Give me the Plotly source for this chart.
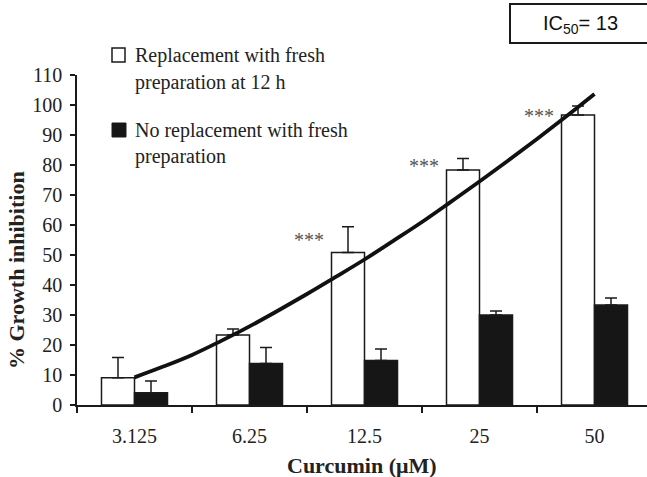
import plotly.graph_objects as go

# ---- data ----
categories = ["3.125", "6.25", "12.5", "25", "50"]
fresh = [9.1, 23.3, 50.8, 78.3, 96.7]
fresh_err = [6.7, 2.0, 8.6, 3.9, 3.0]
nofresh = [4.1, 13.8, 14.8, 30.0, 33.3]
nofresh_err = [3.9, 5.4, 3.9, 1.3, 2.4]

# fitted curve drawn in the reference (position in category units, value)
curve_x = [0, 0.25, 0.5, 0.75, 1.0, 1.25, 1.5, 1.75, 2.0, 2.25, 2.5, 2.75, 3.0, 3.25, 3.5, 3.75, 4.0]
curve_y = [9.2, 12.8, 16.7, 21.3, 26.2, 31.5, 37.0, 42.7, 48.5, 54.7, 61.0, 67.7, 74.5, 81.5, 88.7, 96.1, 103.7]

# significance marks (category index, value)
sig_idx = [2, 3, 4]
sig_val = [55.0, 79.7, 96.3]

ic50_text = "IC<sub>50</sub>= 13"
legend_fresh = ["Replacement with fresh", "preparation at 12 h"]
legend_nofresh = ["No replacement with fresh", "preparation"]

W, H = 647, 477
ML, MR, MT, MB = 77, 0, 75, 72
PW = W - ML - MR
PH = H - MT - MB
xpos = list(range(len(categories)))
XMAX = -0.5 + PW / 115.0

def px(x):
    return (x - ML) / PW

def py(y):
    return (MT + PH - y) / PH

SERIF = "Liberation Serif, Times New Roman, serif"
SANS = "Liberation Sans, Arial, sans-serif"
DARK = "#1a1a1a"

fig = go.Figure()
fig.add_trace(go.Bar(
    x=xpos, y=fresh, name="fresh",
    marker=dict(color="white", line=dict(color=DARK, width=1.5)),
    error_y=dict(type="data", array=fresh_err, arrayminus=[0] * 5, symmetric=False,
                 color=DARK, thickness=1.5, width=6),
))
fig.add_trace(go.Bar(
    x=xpos, y=nofresh, name="nofresh",
    marker=dict(color="#161616", line=dict(color=DARK, width=1.5)),
    error_y=dict(type="data", array=nofresh_err, arrayminus=[0] * 5, symmetric=False,
                 color=DARK, thickness=1.5, width=6),
))
fig.add_trace(go.Scatter(
    x=curve_x, y=curve_y, mode="lines", line=dict(color="#111111", width=3.8, shape="spline"),
    hoverinfo="skip",
))

annotations = []
for i, v in zip(sig_idx, sig_val):
    annotations.append(dict(x=i - 0.485, y=v, xref="x", yref="y", text="***", showarrow=False,
                            font=dict(family=SERIF, size=20, color="#555555"),
                            xanchor="center", yanchor="middle"))

# legend text
for txt, ycen in zip(legend_fresh + legend_nofresh, [56, 82, 130, 156]):
    annotations.append(dict(x=px(133), y=py(ycen), xref="paper", yref="paper", text=txt,
                            showarrow=False, xanchor="left", yanchor="middle",
                            font=dict(family=SERIF, size=20, color="#222222")))

# IC50
annotations.append(dict(x=px(580), y=py(24), xref="paper", yref="paper", text=ic50_text,
                        showarrow=False, xanchor="center", yanchor="middle",
                        font=dict(family=SANS, size=20, color="#111111")))
# axis titles
annotations.append(dict(x=px(16), y=py(270), xref="paper", yref="paper", text="<b>% Growth inhibition</b>",
                        showarrow=False, textangle=-90, xanchor="center", yanchor="middle",
                        font=dict(family=SERIF, size=22, color="#222222")))
annotations.append(dict(x=px(362), y=py(465), xref="paper", yref="paper", text="<b>Curcumin (μM)</b>",
                        showarrow=False, xanchor="center", yanchor="middle",
                        font=dict(family=SERIF, size=22, color="#222222")))

shapes = [
    dict(type="rect", xref="paper", yref="paper", x0=px(112), x1=px(125), y0=py(62), y1=py(48),
         line=dict(color=DARK, width=1.5), fillcolor="white"),
    dict(type="rect", xref="paper", yref="paper", x0=px(112), x1=px(126), y0=py(137), y1=py(123),
         line=dict(color=DARK, width=1), fillcolor="#161616"),
    dict(type="rect", xref="paper", yref="paper", x0=px(510), x1=px(652), y0=py(43), y1=py(4),
         line=dict(color=DARK, width=2), fillcolor="rgba(0,0,0,0)"),
]

fig.update_layout(
    width=W, height=H,
    margin=dict(l=ML, r=MR, t=MT, b=MB, pad=0),
    paper_bgcolor="white", plot_bgcolor="white",
    barmode="group", bargap=0.426, bargroupgap=0,
    showlegend=False,
    annotations=annotations, shapes=shapes,
    xaxis=dict(range=[-0.5, XMAX], tickvals=xpos, ticktext=categories,
               ticks="outside", ticklen=12, tickcolor="rgba(0,0,0,0)",
               showline=True, linecolor=DARK, linewidth=1.5, showgrid=False, zeroline=False,
               tickfont=dict(family=SERIF, size=20, color="#222222"),
               minor=dict(tickvals=[-0.5, 0.5, 1.5, 2.5, 3.5], ticks="outside", ticklen=6,
                          tickcolor=DARK, tickwidth=1.5, showgrid=False)),
    yaxis=dict(range=[0, 110], tickvals=list(range(0, 111, 10)),
               ticks="outside", ticklen=5, tickcolor=DARK, tickwidth=1.5,
               showline=True, linecolor=DARK, linewidth=1.5, showgrid=False, zeroline=False,
               ticklabelstandoff=4,
               tickfont=dict(family=SERIF, size=20, color="#222222")),
)

fig.write_html("out.html")
